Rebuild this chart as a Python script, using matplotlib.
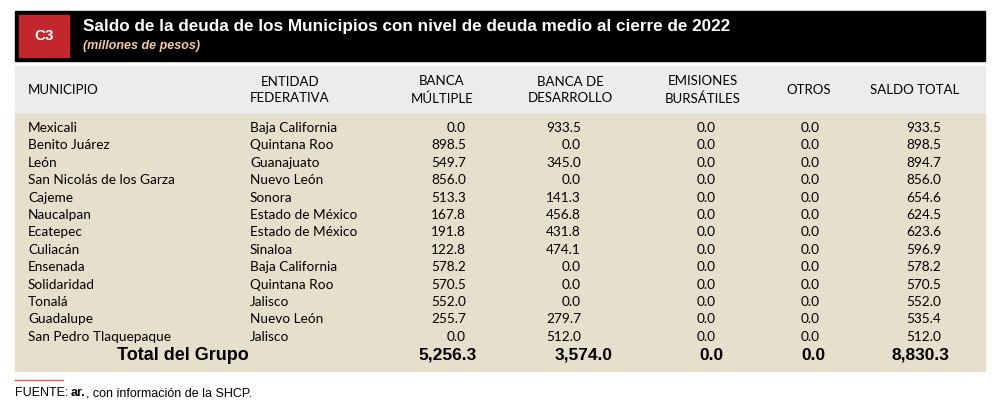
import matplotlib.pyplot as plt

# datos de la tabla
municipios = ['Mexicali', 'Benito Juárez', 'León', 'San Nicolás de los Garza', 'Cajeme',
              'Naucalpan', 'Ecatepec', 'Culiacán', 'Ensenada', 'Solidaridad', 'Tonalá',
              'Guadalupe', 'San Pedro Tlaquepaque']
entidades = ['Baja California', 'Quintana Roo', 'Guanajuato', 'Nuevo León', 'Sonora',
             'Estado de México', 'Estado de México', 'Sinaloa', 'Baja California',
             'Quintana Roo', 'Jalisco', 'Nuevo León', 'Jalisco']
banca_multiple = [0.0, 898.5, 549.7, 856.0, 513.3, 167.8, 191.8, 122.8, 578.2, 570.5, 552.0, 255.7, 0.0]
banca_desarrollo = [933.5, 0.0, 345.0, 0.0, 141.3, 456.8, 431.8, 474.1, 0.0, 0.0, 0.0, 279.7, 512.0]
emisiones = [0.0] * 13
otros = [0.0] * 13
saldo_total = [933.5, 898.5, 894.7, 856.0, 654.6, 624.5, 623.6, 596.9, 578.2, 570.5, 552.0, 535.4, 512.0]
totales = [5256.3, 3574.0, 0.0, 0.0, 8830.3]

BODY = 'Lato'
HEAD = 'Liberation Sans'

fig = plt.figure(figsize=(10, 4.13), dpi=100)
ax = fig.add_axes([0, 0, 1, 1])
ax.set_xlim(0, 1000)
ax.set_ylim(413, 0)
ax.axis('off')

# banda del titulo
ax.add_patch(plt.Rectangle((15, 11), 970, 50, color='black'))
ax.add_patch(plt.Rectangle((19, 15), 50, 42, color='#c1272d'))
ax.text(44, 36, 'C3', color='white', fontsize=11, fontweight='bold', family=HEAD,
        ha='center', va='center')
ax.text(83, 27, 'Saldo de la deuda de los Municipios con nivel de deuda medio al cierre de 2022',
        color='white', fontsize=12.3, fontweight='bold', family=HEAD, va='center')
ax.text(83, 46, '(millones de pesos)', color='#f3c9a1', fontsize=9, fontweight='bold',
        style='italic', family=HEAD, va='center')

# encabezados
ax.add_patch(plt.Rectangle((15, 66), 970, 48, color='#ececec'))
ax.add_patch(plt.Rectangle((15, 114), 970, 257, color='#e6dfcc'))
ax.text(28, 90, 'MUNICIPIO', fontsize=9.5, family=BODY, va='center')
headers = [(290, 'ENTIDAD\nFEDERATIVA'), (442, 'BANCA\nMÚLTIPLE'), (570, 'BANCA DE\nDESARROLLO'),
           (703, 'EMISIONES\nBURSÁTILES'), (809, 'OTROS'), (915, 'SALDO TOTAL')]
for x, h in headers:
    ax.text(x, 90, h, fontsize=9.5, family=BODY, ha='center', va='center', linespacing=1.45)

# filas
col_right = [466, 581, 716, 820, 941]
y0, dy = 128, 17.4
for i in range(len(municipios)):
    y = y0 + i * dy
    ax.text(28, y, municipios[i], fontsize=9.8, family=BODY, va='center')
    ax.text(250, y, entidades[i], fontsize=9.8, family=BODY, va='center')
    vals = [banca_multiple[i], banca_desarrollo[i], emisiones[i], otros[i], saldo_total[i]]
    for x, v in zip(col_right, vals):
        ax.text(x, y, f'{v:,.1f}', fontsize=9.8, family=BODY, ha='right', va='center')

# total
ax.text(183, 355, 'Total del Grupo', fontsize=13, fontweight='bold', family=HEAD,
        ha='center', va='center')
for x, v in zip([448, 584, 711, 813, 920], totales):
    ax.text(x, 355, f'{v:,.1f}', fontsize=12.5, fontweight='bold', family=HEAD,
            ha='center', va='center')

# fuente
ax.plot([15, 63], [380, 380], color='#e06060', lw=1)
ax.text(15, 393, 'FUENTE:', fontsize=9, family=HEAD, va='center')
ax.text(71, 393, 'ar.', fontsize=9, fontweight='bold', family=HEAD, va='center')
ax.text(86, 393, ', con información de la SHCP.', fontsize=9, family=HEAD, va='center')

fig.savefig('out.png', dpi=100)
